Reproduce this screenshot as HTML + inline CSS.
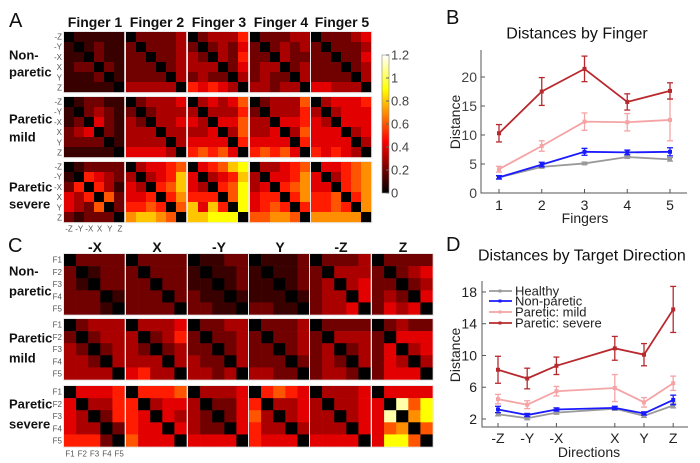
<!DOCTYPE html>
<html><head><meta charset="utf-8"><style>
body{margin:0;background:#fff}
svg{display:block;font-family:"Liberation Sans",sans-serif}
</style></head><body>
<svg id="fig" width="700" height="463" viewBox="0 0 700 463">
<defs><linearGradient id="hotgrad" x1="0" y1="1" x2="0" y2="0">
<stop offset="0" stop-color="#000"/><stop offset="0.375" stop-color="#f00"/><stop offset="0.75" stop-color="#ff0"/><stop offset="1" stop-color="#fff"/>
</linearGradient></defs>
<g id="panelA"></g>
<g id="panelC"></g>
<g id="panelB"></g>
<g id="panelD"></g>
</svg>
<script>
// ---- Panel A data: digits = value*10 (hex for >=1.0)
const aFingers = ["Finger 1","Finger 2","Finger 3","Finger 4","Finger 5"];
const aGroups = [["Non-","paretic"],["Paretic","mild"],["Paretic","severe"]];
const aDirs = ["-Z","-Y","-X","X","Y","Z"];
const aNonParetic = [
 ["011111","101211","110211","122021","111201","111110"],
 ["022223","202223","220223","222023","222203","333330"],
 ["023335","202324","320325","333024","232203","545430"],
 ["022233","202323","220322","233023","232203","332330"],
 ["022234","202223","220224","222023","222203","443330"]];
const aMild = [
 ["012211","102321","120421","234021","222201","111110"],
 ["023334","202333","320334","333033","333303","444430"],
 ["034346","303335","430446","334036","444405","565640"],
 ["023336","203335","330445","334036","444405","565640"],
 ["034445","303444","430444","444034","444403","545430"]];
const aSevere = [
 ["012222","105432","250531","435062","432602","212220"],
 ["034456","303458","430568","445057","556506","788760"],
 ["045689","403458","430569","555069","848509","889990"],
 ["033456","304457","340567","455057","456505","667760"],
 ["044567","403567","440567","556057","556507","777770"]];
// ---- Panel C data
const cDirs = ["-X","X","-Y","Y","-Z","Z"];
const cFingers = ["F1","F2","F3","F4","F5"];
const cNonParetic = [
 ["02222","20122","21022","22201","22210"],
 ["02222","20222","22022","22202","22220"],
 ["01122","10112","11012","21101","22110"],
 ["01112","10112","11012","11101","22110"],
 ["02223","20333","23034","23304","23340"],
 ["02222","20234","22023","23204","24340"]];
const cMild = [
 ["02333","20233","32023","33203","33330"],
 ["03334","30235","32023","33303","45330"],
 ["02233","20223","22023","32203","33230"],
 ["02223","20223","22023","22202","33220"],
 ["02222","20333","23023","23203","23320"],
 ["02322","20444","24034","24303","24440"]];
const cSevere = [
 ["04445","40335","43025","43302","55520"],
 ["05556","50344","54043","54404","64440"],
 ["03334","30224","32024","32204","44440"],
 ["05654","50334","63034","53303","54440"],
 ["03334","30334","33034","33304","44440"],
 ["04444","40B69","4B079","46706","49960"]];
const cbTicks = [0,0.2,0.4,0.6,0.8,1,1.2];
// ---- Panel B data
const bFingers = [1,2,3,4,5];
const bSevere = [10.3,17.5,21.4,15.7,17.6], bSevereErr = [1.5,2.4,2.2,1.4,1.4];
const bMild = [4.1,8.1,12.3,12.2,12.6], bMildErr = [0.5,0.9,1.5,1.5,3.6];
const bNon = [2.7,4.9,7.1,7.0,7.1], bNonErr = [0.3,0.4,0.6,0.4,0.7];
const bHealthy = [2.7,4.5,5.1,6.2,5.8], bHealthyErr = [0.2,0.2,0.2,0.2,0.3];
const bYTicks = [0,5,10,15,20];
// ---- Panel D data
const dDirs = ["-Z","-Y","-X","X","Y","Z"];
const dDirPos = [1,2,3,5,6,7];
const dSevere = [8.2,7.1,8.7,10.9,10.1,15.8], dSevereErr = [1.7,1.3,1.1,1.5,1.4,2.9];
const dMild = [4.5,3.8,5.5,5.9,4.1,6.5], dMildErr = [0.6,0.5,0.6,1.7,0.6,0.9];
const dNon = [3.2,2.5,3.2,3.4,2.7,4.4], dNonErr = [0.4,0.2,0.2,0.2,0.2,0.6];
const dHealthy = [2.6,2.1,2.8,3.3,2.4,3.7], dHealthyErr = [0.2,0.2,0.2,0.2,0.2,0.3];
const dYTicks = [2,6,10,14,18];
const legendNames = ["Healthy","Non-paretic","Paretic: mild","Paretic: severe"];

const NS="http://www.w3.org/2000/svg";
function mk(tag, parent, attrs){const e=document.createElementNS(NS,tag);for(const k in attrs)e.setAttribute(k,attrs[k]);parent.appendChild(e);return e;}
function txt(parent, x, y, s, size, opts){const t=mk('text',parent,Object.assign({x:x,y:y,'font-size':size,'dominant-baseline':'central'},opts||{}));t.textContent=s;return t;}
function hot(v){let f=Math.max(0,Math.min(1,v/1.2));let r=Math.min(1,f/0.375),g=Math.max(0,Math.min(1,(f-0.375)/0.375)),b=Math.max(0,(f-0.75)/0.25);return `rgb(${Math.round(r*255)},${Math.round(g*255)},${Math.round(b*255)})`;}
function drawMatrix(parent, rows, x0, y0, size, name){
  const g=mk('g',parent,{});
  
  
  const n=rows.length, c=size/n;
  rows.forEach((row,i)=>{[...row].forEach((ch,j)=>{
    const r=mk('rect',g,{x:x0+j*c,y:y0+i*c,width:c+0.3,height:c+0.3,fill:hot(parseInt(ch,16)/10)});
    
    
  });});
  mk('rect',g,{x:x0-0.5,y:y0-0.5,width:size+1.3,height:size+1.3,fill:'none',stroke:'#e8e8e8','stroke-width':1});
}
// ---- Panel A
const A=document.getElementById('panelA');
let t=txt(A,9,21,"A",20,{fill:'#111'});  
const aX=[64,126,188,250,311], aY=[32,97,162], aGroupData=[aNonParetic,aMild,aSevere];
aFingers.forEach((f,i)=>{const h=txt(A,aX[i]+31,22,f,14,{'text-anchor':'middle','font-weight':'bold',fill:'#111'});});
const aLabY=[[55,72],[119,137],[187,204]];
aGroups.forEach((gl,gi)=>{
  gl.forEach((s,k)=>{const l=txt(A,9,aLabY[gi][k],s,13,{'font-weight':'bold',fill:'#111'});});
  aDirs.forEach((d,k)=>{const l=txt(A,62,aY[gi]+5+k*10.2,d,8,{'text-anchor':'end',fill:'#555'});});
  aFingers.forEach((f,fi)=>drawMatrix(A,aGroupData[gi][fi],aX[fi],aY[gi],60,'matrix-a'));
});
aDirs.forEach((d,k)=>{const l=txt(A,69+k*10.2,229,d,8,{'text-anchor':'middle',fill:'#555'});});
const cb=mk('rect',A,{x:382,y:55,width:7,height:138,fill:'url(#hotgrad)',stroke:'#888','stroke-width':0.6});

cbTicks.forEach(v=>{const y=193-v/1.2*138;mk('line',A,{x1:386,x2:389,y1:y,y2:y,stroke:'#666'});const l=txt(A,391,y,String(v),13,{fill:'#444'});});
// ---- Panel C
const C=document.getElementById('panelC');
t=txt(C,8,246,"C",20,{fill:'#111'});  
const cX=[64,126,188,249,310,372], cY=[254,319,386], cGroupData=[cNonParetic,cMild,cSevere];
cDirs.forEach((d,i)=>{const h=txt(C,cX[i]+31,247,d,14,{'text-anchor':'middle','font-weight':'bold',fill:'#111'});});
const cLabY=[[271,291],[338,358],[404,424]];
aGroups.forEach((gl,gi)=>{
  gl.forEach((s,k)=>{const l=txt(C,9,cLabY[gi][k],s,13,{'font-weight':'bold',fill:'#111'});});
  cFingers.forEach((f,k)=>{const l=txt(C,62,cY[gi]+6+k*12.3,f,8,{'text-anchor':'end',fill:'#555'});});
  cDirs.forEach((d,di)=>drawMatrix(C,cGroupData[gi][di],cX[di],cY[gi],60.5,'matrix-c'));
});
cFingers.forEach((f,k)=>{const l=txt(C,70+k*12.3,454,f,8,{'text-anchor':'middle',fill:'#555'});});
// ---- line chart helper
const colors={sev:'#b8292e',mild:'#f5a3a5',non:'#1a1aff',hea:'#9a9a9a'};
function series(parent,xs,ys,es,sx,sy,color,name){
  const g=mk('g',parent,{});
  
  
  const pts=xs.map((x,i)=>sx(x)+','+sy(ys[i])).join(' ');
  mk('polyline',g,{points:pts,fill:'none',stroke:color,'stroke-width':1.8});
  xs.forEach((x,i)=>{
    const X=sx(x),y1=sy(ys[i]-es[i]),y2=sy(ys[i]+es[i]);
    mk('line',g,{x1:X,x2:X,y1:y1,y2:y2,stroke:color,'stroke-width':1.3});
    mk('line',g,{x1:X-3,x2:X+3,y1:y1,y2:y1,stroke:color,'stroke-width':1.3});
    mk('line',g,{x1:X-3,x2:X+3,y1:y2,y2:y2,stroke:color,'stroke-width':1.3});
    const m=mk('rect',g,{x:X-2,y:sy(ys[i])-2,width:4,height:4,fill:color});
    
    
  });
}
// ---- Panel B
const B=document.getElementById('panelB');
t=txt(B,446,18,"B",20,{fill:'#111'});  
t=txt(B,577,34,"Distances by Finger",16,{'text-anchor':'middle',fill:'#111'});  
const bsx=x=>499+(x-1)*42.75, bsy=v=>193-v*5.8;
mk('polyline',B,{points:'481,50 481,193 687,193',fill:'none',stroke:'#555','stroke-width':1});
bYTicks.forEach(v=>{mk('line',B,{x1:481,x2:485,y1:bsy(v),y2:bsy(v),stroke:'#555'});const l=txt(B,477,bsy(v),String(v),14,{'text-anchor':'end',fill:'#444'});});
bFingers.forEach(x=>{mk('line',B,{x1:bsx(x),x2:bsx(x),y1:193,y2:189,stroke:'#555'});const l=txt(B,bsx(x),205,String(x),14,{'text-anchor':'middle',fill:'#222'});});
t=txt(B,585,218,"Fingers",14,{'text-anchor':'middle',fill:'#222'});  
t=txt(B,455,122,"Distance",14,{'text-anchor':'middle',fill:'#222',transform:'rotate(-90 455 122)'});  
series(B,bFingers,bHealthy,bHealthyErr,bsx,bsy,colors.hea,'series-healthy');
series(B,bFingers,bNon,bNonErr,bsx,bsy,colors.non,'series-non-paretic');
series(B,bFingers,bMild,bMildErr,bsx,bsy,colors.mild,'series-paretic-mild');
series(B,bFingers,bSevere,bSevereErr,bsx,bsy,colors.sev,'series-paretic-severe');
// ---- Panel D
const D=document.getElementById('panelD');
t=txt(D,446,245,"D",20,{fill:'#111'});  
t=txt(D,478,256,"Distances by Target Direction",16,{fill:'#111'});  
const dsx=x=>498+(x-1)*29.2, dsy=v=>419-(v-2)*7.94;
mk('polyline',D,{points:'482,281 482,427 688,427',fill:'none',stroke:'#555','stroke-width':1});
dYTicks.forEach(v=>{mk('line',D,{x1:482,x2:486,y1:dsy(v),y2:dsy(v),stroke:'#555'});const l=txt(D,477,dsy(v),String(v),14,{'text-anchor':'end',fill:'#222'});});
dDirPos.forEach((x,i)=>{mk('line',D,{x1:dsx(x),x2:dsx(x),y1:427,y2:423,stroke:'#555'});const l=txt(D,dsx(x),438,dDirs[i],14,{'text-anchor':'middle',fill:'#222'});});
t=txt(D,589,452,"Directions",14,{'text-anchor':'middle',fill:'#222'});  
t=txt(D,455,355,"Distance",14,{'text-anchor':'middle',fill:'#222',transform:'rotate(-90 455 355)'});  
series(D,dDirPos,dHealthy,dHealthyErr,dsx,dsy,colors.hea,'series-healthy');
series(D,dDirPos,dNon,dNonErr,dsx,dsy,colors.non,'series-non-paretic');
series(D,dDirPos,dMild,dMildErr,dsx,dsy,colors.mild,'series-paretic-mild');
series(D,dDirPos,dSevere,dSevereErr,dsx,dsy,colors.sev,'series-paretic-severe');
const legCols=[colors.hea,colors.non,colors.mild,colors.sev], legY=[291,301,312,323];
legendNames.forEach((n,i)=>{
  const g=mk('g',D,{});
  
  
  mk('line',g,{x1:489,x2:512,y1:legY[i],y2:legY[i],stroke:legCols[i],'stroke-width':1.8});
  mk('rect',g,{x:498.5,y:legY[i]-1.5,width:3,height:3,fill:legCols[i]});
  txt(g,515,legY[i],n,13,{fill:'#222'});
});
</script>
</body></html>
